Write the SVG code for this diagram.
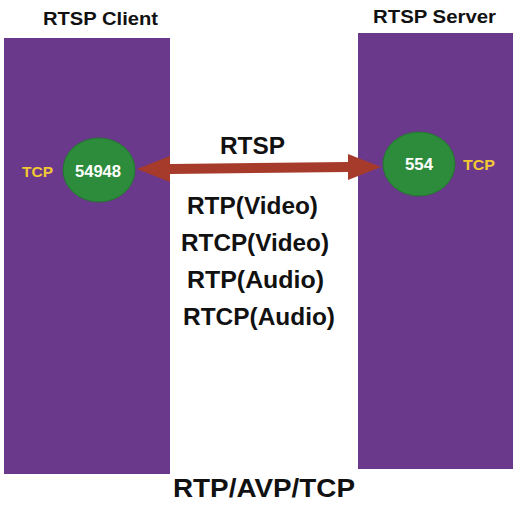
<svg xmlns="http://www.w3.org/2000/svg" width="516" height="506" viewBox="0 0 516 506">
<style>
text{font-family:"Liberation Sans",Arial,sans-serif;font-weight:bold}
.lbl{fill:#111}
.port{fill:#fff;font-size:16px}
.tcp{fill:#f2c832;font-size:15px}
.bar{fill:#6a398b}
.circ{fill:#2d8b3c;stroke:#257532;stroke-width:1}
</style>
<rect width="516" height="506" fill="#fff"/>
<g id="client">
<rect class="bar" x="4" y="38" width="166" height="436"/>
<text class="lbl" x="43" y="25" font-size="18" textLength="115" lengthAdjust="spacingAndGlyphs">RTSP Client</text>
<text class="tcp" x="22" y="177" textLength="31" lengthAdjust="spacingAndGlyphs">TCP</text>
</g>
<g id="server">
<rect class="bar" x="358" y="33" width="155" height="436"/>
<text class="lbl" x="373" y="23" font-size="18" textLength="123" lengthAdjust="spacingAndGlyphs">RTSP Server</text>
<text class="tcp" x="463" y="170" textLength="32" lengthAdjust="spacingAndGlyphs">TCP</text>
</g>
<g id="port-54948">
<ellipse class="circ" cx="99" cy="170" rx="36" ry="32"/>
<text class="port" x="75" y="177" textLength="46" lengthAdjust="spacingAndGlyphs">54948</text>
</g>
<g id="port-554">
<ellipse class="circ" cx="419" cy="164" rx="36" ry="32"/>
<text class="port" x="405" y="170" textLength="28" lengthAdjust="spacingAndGlyphs">554</text>
</g>
<g id="connectors">
<polygon fill="#a63b2b" points="137,169 170,156 170,164 348,162 348,154 381,167 348,180 348,172 170,174 170,182"/>
</g>
<g id="labels">
<text class="lbl" x="220" y="154" font-size="23" textLength="65" lengthAdjust="spacingAndGlyphs">RTSP</text>
<text class="lbl" x="187" y="214" font-size="23" textLength="131" lengthAdjust="spacingAndGlyphs">RTP(Video)</text>
<text class="lbl" x="181" y="251" font-size="23" textLength="148" lengthAdjust="spacingAndGlyphs">RTCP(Video)</text>
<text class="lbl" x="187" y="288" font-size="23" textLength="137" lengthAdjust="spacingAndGlyphs">RTP(Audio)</text>
<text class="lbl" x="183" y="325" font-size="23" textLength="152" lengthAdjust="spacingAndGlyphs">RTCP(Audio)</text>
<text class="lbl" x="173" y="497" font-size="25" textLength="182" lengthAdjust="spacingAndGlyphs">RTP/AVP/TCP</text>
</g>
</svg>
